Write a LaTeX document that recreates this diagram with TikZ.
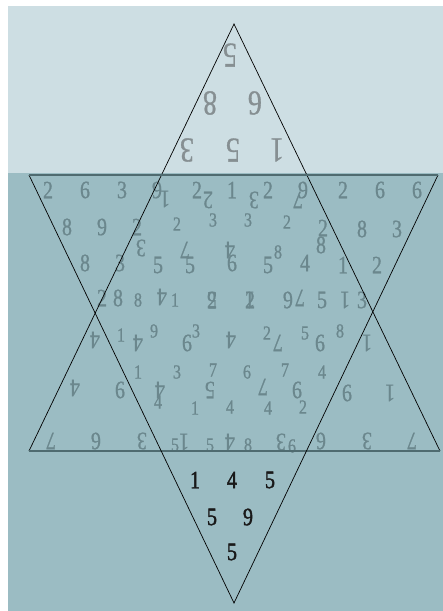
\documentclass[tikz,border=0pt]{standalone}
\usepackage{fontspec}
\setmainfont{Liberation Serif}
\newfontfamily\numfont[FakeStretch=0.8, FakeBold=0.8]{Liberation Serif}
\newfontfamily\botfont[FakeStretch=0.8, FakeBold=1.6]{Liberation Serif}
\definecolor{skylight}{HTML}{CDDEE3}
\definecolor{seadark}{HTML}{9BBCC3}
\definecolor{numgray}{HTML}{6B878D}
\definecolor{topgray}{HTML}{868F92}
\definecolor{edgegray}{HTML}{4F6B70}

\begin{document}
\begin{tikzpicture}[x=1pt, y=-1pt,
    dg/.style={inner sep=0pt, text=numgray, font=\numfont\fontsize{25}{25}\selectfont},
    dgr/.style={dg, rotate=180},
    ds/.style={dg, font=\numfont\fontsize{20}{20}\selectfont},
    dt/.style={inner sep=0pt, text=topgray, rotate=180, font=\numfont\fontsize{35}{35}\selectfont},
    db/.style={inner sep=0pt, text=black!90, font=\botfont\fontsize{25}{25}\selectfont},
    slant/.style={line width=0.7pt, black},
    flat/.style={line width=1.6pt, edgegray},
  ]
    \useasboundingbox (0,0) rectangle (443,611);
    \fill[skylight] (8,6) rectangle (443,173);
    \fill[seadark] (8,173) rectangle (443,611);

    % corners of the two triangles
    \coordinate (upTop) at (234,24);
    \coordinate (upLeft) at (29,451);
    \coordinate (upRight) at (440,451);
    \coordinate (dnBot) at (234,603);
    \coordinate (dnLeft) at (29,175);
    \coordinate (dnRight) at (438,175);

    % top point, upside down
    \foreach \x/\y/\d [count=\i] in {230/55/5, 210/103/8, 255/103/6, 187/150/3, 233/150/5, 277/150/1}
      \node[dt] (top\i) at (\x,\y) {\d};

    % upright digits
    \foreach \x/\y/\d [count=\i] in {48/190/2, 85/190/6, 122/190/3, 157/190/9, 197/190/2, 232/190/1,
        268/190/2, 303/190/9, 343/190/2, 380/190/6, 417/190/6,
        67/227/8, 102/227/9, 137/227/2, 323/228/2, 362/229/8, 397/229/3, 321/245/8,
        85/263/8, 120/263/3, 158/265/5, 190/265/5, 232/263/6, 268/265/5, 305/263/4, 343/265/1, 377/265/2,
        102/298/2, 118/298/8, 212/300/2, 250/300/2, 322/300/5, 362/300/3,
        187/343/6, 320/343/6, 120/390/6, 297/390/6, 347/393/6}
      \node[dg] (up\i) at (\x,\y) {\d};

    % turned digits
    \foreach \x/\y/\d [count=\i] in {165/199/1, 208/200/2, 254/200/3, 298/200/7,
        141/248/3, 185/250/7, 230/250/4,
        162/297/4, 212/300/5, 250/300/1, 288/300/6, 300/298/7, 345/300/1,
        95/340/4, 138/343/4, 231/340/4, 278/343/7, 367/343/1,
        75/388/4, 160/390/4, 210/390/5, 263/387/7, 390/393/1,
        51/441/7, 96/441/6, 142/441/3, 184/442/1, 230/442/4, 281/442/3, 321/441/6, 367/441/3, 412/441/7}
      \node[dgr] (rot\i) at (\x,\y) {\d};

    % small digits
    \foreach \x/\y/\d [count=\i] in {177/224/2, 213/220/3, 248/220/3, 287/222/2, 278/252/8,
        138/300/8, 175/300/1,
        121/335/1, 154/331/9, 196/331/3, 267/333/2, 305/333/5, 340/331/8,
        138/372/1, 158/402/4, 177/372/3, 195/408/1, 213/370/7, 230/407/4, 247/372/6,
        268/408/4, 285/370/7, 303/407/2, 322/372/4,
        175/445/5, 210/445/5, 248/445/8, 292/446/6}
      \node[ds] (sm\i) at (\x,\y) {\d};

    % bottom point
    \foreach \x/\y/\d [count=\i] in {195/480/1, 232/480/4, 270/480/5, 212/517/5, 248/517/9, 232/552/5}
      \node[db] (bot\i) at (\x,\y) {\d};

    \draw[slant] (upLeft) -- (upTop) -- (upRight);
    \draw[flat] (upLeft) -- (upRight);
    \draw[slant] (dnLeft) -- (dnBot) -- (dnRight);
    \draw[flat] (dnLeft) -- (dnRight);
  \end{tikzpicture}
\end{document}
